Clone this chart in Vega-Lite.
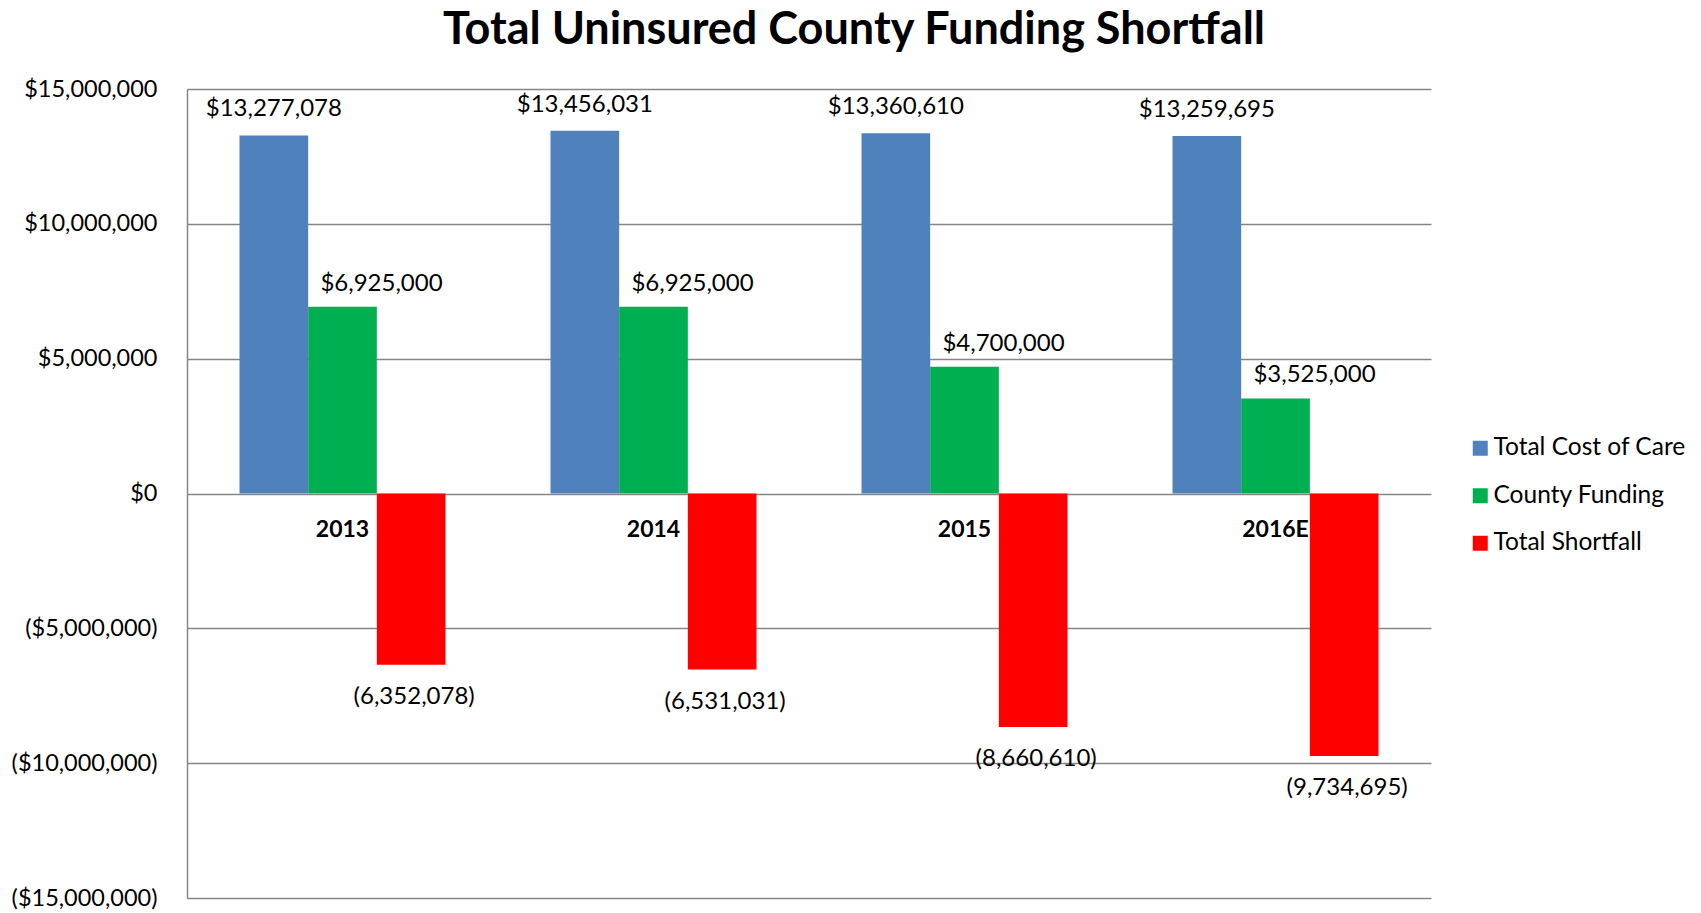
{
  "$schema": "https://vega.github.io/schema/vega-lite/v6.json",
  "width": 1244,
  "height": 809,
  "autosize": {"type": "none"},
  "padding": {"left": 187, "top": 89, "right": 270, "bottom": 15},
  "background": "white",
  "config": {"font": "Lato", "view": {"stroke": null}},
  "title": {"text": "Total Uninsured County Funding Shortfall", "fontSize": 45, "fontWeight": "bold", "font": "Lato", "color": "black", "anchor": "middle", "dx": 45, "offset": 24},
  "data": {"values": [
    {"year": "2013", "series": "Total Cost of Care", "value": 13277078},
    {"year": "2013", "series": "County Funding", "value": 6925000},
    {"year": "2013", "series": "Total Shortfall", "value": -6352078},
    {"year": "2014", "series": "Total Cost of Care", "value": 13456031},
    {"year": "2014", "series": "County Funding", "value": 6925000},
    {"year": "2014", "series": "Total Shortfall", "value": -6531031},
    {"year": "2015", "series": "Total Cost of Care", "value": 13360610},
    {"year": "2015", "series": "County Funding", "value": 4700000},
    {"year": "2015", "series": "Total Shortfall", "value": -8660610},
    {"year": "2016E", "series": "Total Cost of Care", "value": 13259695},
    {"year": "2016E", "series": "County Funding", "value": 3525000},
    {"year": "2016E", "series": "Total Shortfall", "value": -9734695}
  ]},
  "encoding": {
    "x": {"field": "year", "type": "nominal", "sort": null,
      "scale": {"paddingInner": 0.3376, "paddingOuter": 0.1688},
      "axis": {"title": null, "orient": "bottom", "offset": -405, "domain": false, "ticks": false, "labelAngle": 0, "labelFontWeight": "bold", "labelFontSize": 23, "labelPadding": 25, "labelColor": "black", "grid": false}},
    "xOffset": {"field": "series", "type": "nominal", "sort": ["Total Cost of Care", "County Funding", "Total Shortfall"], "scale": {"paddingInner": 0, "paddingOuter": 0}},
    "y": {"field": "value", "type": "quantitative",
      "scale": {"domain": [-15000000, 15000000], "nice": false},
      "axis": {"title": null, "values": [-15000000, -10000000, -5000000, 0, 5000000, 10000000, 15000000], "format": "($,.0f", "grid": true, "gridColor": "#868686", "gridOpacity": 1, "gridWidth": 1.3, "domainColor": "#868686", "domainWidth": 1.5, "ticks": false, "labelFontSize": 23.5, "labelPadding": 30, "labelColor": "black"}}
  },
  "layer": [
    {"mark": {"type": "bar"},
     "encoding": {"color": {"field": "series", "type": "nominal",
       "scale": {"domain": ["Total Cost of Care", "County Funding", "Total Shortfall"], "range": ["#4F81BD", "#00B050", "#FF0000"]},
       "legend": {"orient": "none", "legendX": 1281, "legendY": 347, "title": null, "symbolType": "square", "symbolSize": 225, "symbolStrokeWidth": 0, "labelFontSize": 24.5, "labelColor": "black", "labelLimit": 0, "rowPadding": 22.5, "labelOffset": 1}}}},
    {"transform": [{"filter": "datum.series === 'Total Cost of Care'"}],
     "mark": {"type": "text", "dy": -26, "baseline": "middle", "fontSize": 24, "color": "black"},
     "encoding": {"text": {"field": "value", "type": "quantitative", "format": "$,.0f"}}},
    {"transform": [{"filter": "datum.series === 'County Funding'"}],
     "mark": {"type": "text", "dx": 39, "dy": -23, "baseline": "middle", "fontSize": 24, "color": "black"},
     "encoding": {"text": {"field": "value", "type": "quantitative", "format": "$,.0f"}}},
    {"transform": [{"filter": "datum.series === 'Total Shortfall'"}],
     "mark": {"type": "text", "dx": 3, "dy": 32, "baseline": "middle", "fontSize": 24, "color": "black"},
     "encoding": {"text": {"field": "value", "type": "quantitative", "format": "(,.0f"}}}
  ]
}
